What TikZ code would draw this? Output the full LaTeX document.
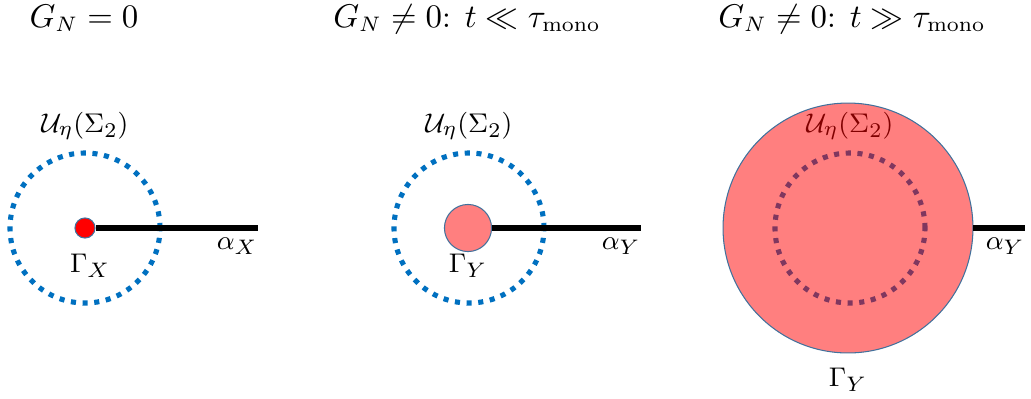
\documentclass[tikz,border=0pt]{standalone}
\usepackage{amsmath, amssymb}
\usepackage{xcolor}
\usetikzlibrary{positioning}

\definecolor{nbhdblue}{RGB}{0,112,192}
\definecolor{rimblue}{RGB}{65,113,156}

\begin{document}
\begin{tikzpicture}[
  x=0.3333pt, y=-0.3333pt,
  font=\fontsize{9.4}{11}\selectfont,
  nbhd/.style={circle, draw=nbhdblue, line width=1.7pt, dash pattern=on 1.7pt off 2.2pt, minimum size=50pt, inner sep=0pt},
  core/.style={circle, draw=rimblue, line width=0.35pt, inner sep=0pt},
  arcline/.style={line width=1.8pt},
  lbl/.style={inner sep=0pt},
  title/.style={font=\fontsize{10.5}{12}\selectfont, inner sep=0pt, anchor=base}
]
\useasboundingbox (0,0) rectangle (1031,398);

% panel 1: G_N = 0
\node[title] (t1) at (84,27) {$G_N = 0$};
\node[nbhd] (nX) at (85,228) {};
\node[lbl, above=3.3pt of nX] (uX) {$\mathcal{U}_\eta(\Sigma_2)$};
\coordinate (eX) at (258,228);
\node[core, fill=red, minimum size=6.7pt] (gX) at (85,228) {};
\draw[arcline] (gX.east) -- (eX);
\node[lbl, below=5pt of gX, xshift=1.7pt] (lgX) {$\Gamma_X$};
\node[lbl, below left=3pt and 0pt of eX] (laX) {$\alpha_X$};

% panel 2: short times
\node[title] (t2) at (467,27) {$G_N \neq 0$: $t \ll \tau_{\mathrm{mono}}$};
\node[nbhd] (nY) at (469,228) {};
\node[lbl, above=3.3pt of nY] (uY) {$\mathcal{U}_\eta(\Sigma_2)$};
\coordinate (eY) at (641,228);
\node[core, fill=red, fill opacity=0.5, minimum size=15.7pt] (gY) at (468,228) {};
\draw[arcline] (gY.east) -- (eY);
\node[lbl, below=0.6pt of gY] (lgY) {$\Gamma_Y$};
\node[lbl, below left=3pt and 0pt of eY] (laY) {$\alpha_Y$};

% panel 3: long times
\node[title] (t3) at (852,27) {$G_N \neq 0$: $t \gg \tau_{\mathrm{mono}}$};
\node[nbhd] (nZ) at (850,228) {};
\node[lbl, above=3.3pt of nZ] (uZ) {$\mathcal{U}_\eta(\Sigma_2)$};
\coordinate (eZ) at (1025,228);
\node[core, fill=red, fill opacity=0.5, minimum size=83.3pt] (gZ) at (848,228) {};
\draw[arcline] (gZ.east) -- (eZ);
\node[lbl, below=4.7pt of gZ] (lgZ) {$\Gamma_Y$};
\node[lbl, below left=3pt and 0pt of eZ] (laZ) {$\alpha_Y$};
\end{tikzpicture}
\end{document}
